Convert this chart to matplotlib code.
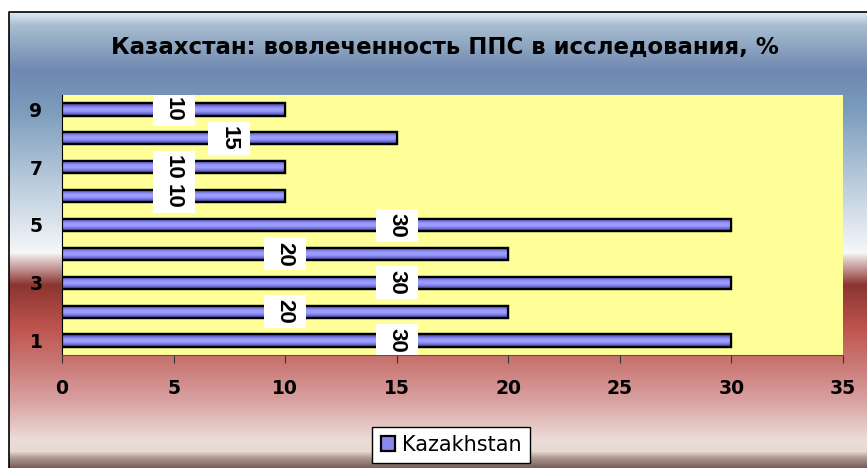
import matplotlib.pyplot as plt
import numpy as np
from matplotlib.colors import to_rgb, LinearSegmentedColormap
from matplotlib.transforms import ScaledTranslation

plt.rcParams['font.family'] = ['DejaVu Sans']

title = 'Казахстан: вовлеченность ППС в исследования, %'
categories = [1, 2, 3, 4, 5, 6, 7, 8, 9]
values = [30, 20, 30, 20, 30, 10, 10, 15, 10]
series_name = 'Kazakhstan'
xticks = [0, 5, 10, 15, 20, 25, 30, 35]
ytick_shown = [1, 3, 5, 7, 9]

W, H = 867, 468
fig = plt.figure(figsize=(W / 100, H / 100), dpi=100)

# background gradient (pixel rows -> colour)
bg = fig.add_axes([0, 0, 1, 1], zorder=-10)
bg.set_xlim(0, W)
bg.set_ylim(H, 0)
bg.axis('off')
stops = [(12, '#dfe9f1'), (25, '#a8bdd0'), (70, '#6f88b0'), (110, '#7b9cbd'),
         (180, '#b8cadb'), (245, '#eef2f6'), (253, '#f8f8f8'), (258, '#e4d4d4'),
         (285, '#8c3530'), (330, '#c05550'), (360, '#c87470'), (400, '#d8a0a0'),
         (440, '#ecdcd8'), (452, '#e8d8d2'), (458, '#b09a94'), (468, '#7a5e58')]
ys = np.arange(12, H + 1)
sy = [s[0] for s in stops]
rgb = np.array([to_rgb(s[1]) for s in stops])
grad = np.stack([np.interp(ys, sy, rgb[:, k]) for k in range(3)], axis=-1)
grad = np.repeat(grad[:, None, :], 2, axis=1)
bg.imshow(grad, extent=[9, W, H, 12], aspect='auto', interpolation='bilinear')
bg.plot([9, 9, W], [H, 12, 12], color='black', lw=1.2)

ax = fig.add_axes([62 / W, 1 - 355 / H, (843 - 62) / W, (355 - 95) / H])
ax.set_facecolor('#ffff99')

bar_h = 0.42
bars = ax.barh(categories, values, height=bar_h, color='#8888f0',
               edgecolor='black', linewidth=1.6, label=series_name, zorder=3)

# bar shading: dark at the edges, light in the middle
bar_cmap = LinearSegmentedColormap.from_list(
    'barshade', ['#303070', '#7070d8', '#9c9cff', '#9c9cff', '#7070d8', '#303070'])
shade = np.linspace(0, 1, 64).reshape(-1, 1)
for b in bars:
    x0, y0 = b.get_x(), b.get_y()
    im = ax.imshow(shade, cmap=bar_cmap, aspect='auto', zorder=3.5,
                   extent=[x0, x0 + b.get_width(), y0, y0 + b.get_height()],
                   origin='lower')
    im.set_clip_path(b)
    ax.add_patch(plt.Rectangle((x0, y0), b.get_width(), b.get_height(),
                               fill=False, edgecolor='black', lw=1.6, zorder=4))

# value labels: white box (fixed size in inches) + rotated text
for c, v in zip(categories, values):
    tr = fig.dpi_scale_trans + ScaledTranslation(v / 2, c, ax.transData)
    ax.add_patch(plt.Rectangle((-0.21, -0.165), 0.42, 0.33, transform=tr,
                               facecolor='white', edgecolor='none', zorder=5))
    ax.text(v / 2, c, str(v), rotation=-90, ha='center', va='center',
            rotation_mode='anchor', fontsize=16, fontweight='bold',
            family=['Liberation Sans', 'DejaVu Sans'], zorder=6)

ax.set_xlim(0, 35)
ax.set_ylim(0.5, 9.5)
ax.set_xticks(xticks)
ax.set_xticklabels([str(t) for t in xticks], fontsize=13.5, fontweight='bold')
ax.set_yticks(ytick_shown)
ax.set_yticklabels([str(t) for t in ytick_shown], fontsize=13.5, fontweight='bold')
ax.tick_params(axis='y', length=0, pad=14)
ax.tick_params(axis='x', length=6, direction='out', pad=11, color='#333333')
for s in ['top', 'right']:
    ax.spines[s].set_visible(False)
ax.spines['left'].set_color('black')
ax.spines['bottom'].set_color('#555544')
ax.set_axisbelow(True)

fig.text(445 / W, 1 - 47 / H, title, ha='center', va='center',
         fontsize=16.5, fontweight='bold')

leg = fig.legend(loc='center', bbox_to_anchor=(451 / W, 1 - 445 / H),
                 fontsize=15, frameon=True, fancybox=False, handlelength=0.7,
                 handleheight=0.7, handletextpad=0.3, borderpad=0.4,
                 borderaxespad=0)
leg.get_frame().set_edgecolor('black')
leg.get_frame().set_facecolor('white')
leg.get_frame().set_alpha(1)

fig.savefig('out.png', dpi=100)
